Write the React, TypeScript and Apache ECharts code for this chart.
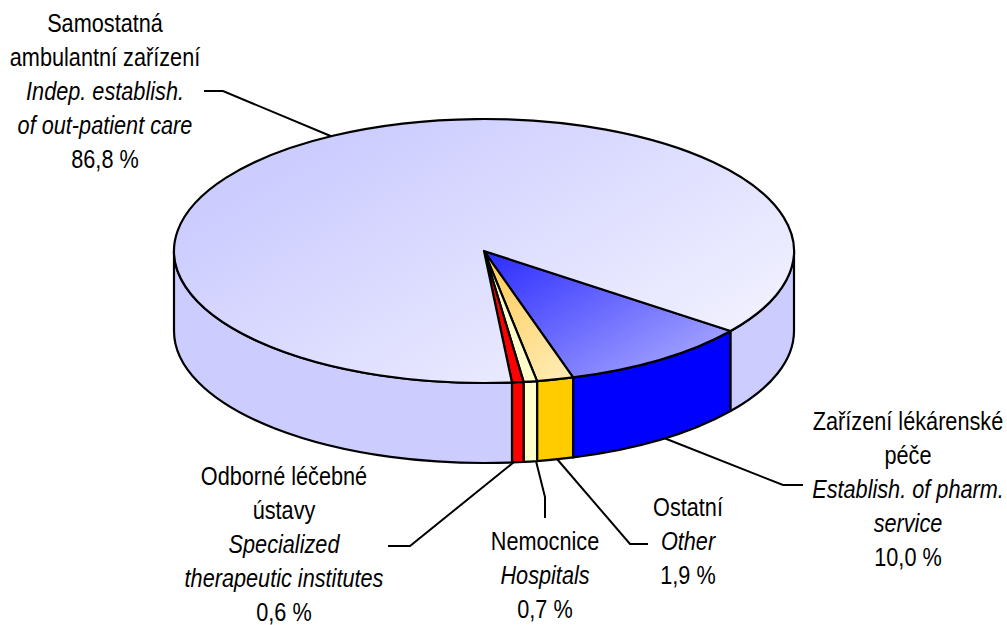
import React, { useEffect, useRef } from "react";
import * as echarts from "echarts";

const sliceNames = ["Zařízení lékárenské péče", "Ostatní", "Nemocnice", "Odborné léčebné ústavy", "Samostatná ambulantní zařízení"];
const sliceValues = [10.0, 1.9, 0.7, 0.6, 86.8];
const labelLines = [
  ["Zařízení lékárenské", "péče", "Establish. of pharm.", "service", "10,0 %"],
  ["Ostatní", "Other", "1,9 %"],
  ["Nemocnice", "Hospitals", "0,7 %"],
  ["Odborné léčebné", "ústavy", "Specialized", "therapeutic institutes", "0,6 %"],
  ["Samostatná", "ambulantní zařízení", "Indep. establish.", "of out-patient care", "86,8 %"],
];
const italicFlags = [
  [false, false, true, true, false],
  [false, true, false],
  [false, true, false],
  [false, false, true, true, false],
  [false, false, true, true, false],
];

const CX = 484, CY = 251, RX = 310, RY = 132, DEPTH = 80, START = 127.3;
const labelCenters = [[908, 421], [688, 507], [545, 541], [284, 476], [105, 23]];
const lineGap = 34;
const leaders = [
  [[664, 438], [783, 485], [803, 485]],
  [[557, 459], [630, 544], [648, 544]],
  [[536, 461], [545, 497], [545, 518]],
  [[514, 462], [410, 546], [388, 546]],
  [[333, 137], [223, 91], [204, 91]],
];
const sideColors = ["#0000ff", "#ffcc00", "#ffffcc", "#ff0000", "#ccccff"];
const grad = (x0: number, y0: number, x1: number, y1: number, a: string, b: string) =>
  new echarts.graphic.LinearGradient(x0, y0, x1, y1, [{ offset: 0, color: a }, { offset: 1, color: b }], true);
const topFills: any[] = [
  grad(484, 251, 620, 470, "#2a2aff", "#c0c0ff"),
  grad(484, 251, 574, 380, "#ffc94f", "#ffedb8"),
  "#ffffcc",
  "#ff0000",
  grad(330, 140, 515, 460, "#ccccff", "#f0f0ff"),
];

const pt = (deg: number, dy = 0) => {
  const r = (deg * Math.PI) / 180;
  return [CX + RX * Math.sin(r), CY - RY * Math.cos(r) + dy];
};
const topPath = (a: number, b: number) => {
  const p = pt(a), q = pt(b);
  return `M${CX} ${CY}L${p[0]} ${p[1]}A${RX} ${RY} 0 ${b - a > 180 ? 1 : 0} 1 ${q[0]} ${q[1]}Z`;
};
const sidePath = (a: number, b: number) => {
  const p = pt(a), q = pt(b), r = pt(b, DEPTH), s = pt(a, DEPTH);
  return `M${p[0]} ${p[1]}A${RX} ${RY} 0 0 1 ${q[0]} ${q[1]}L${r[0]} ${r[1]}A${RX} ${RY} 0 0 0 ${s[0]} ${s[1]}Z`;
};
const frontRanges = (a: number, b: number) => {
  const out: number[][] = [];
  for (const [lo, hi] of [[90, 270], [450, 630]]) {
    const s = Math.max(a, lo), e = Math.min(b, hi);
    if (e > s) out.push([s, e]);
  }
  return out;
};

const FONT = "'Liberation Sans', Arial, sans-serif";

export default function App() {
  const ref = useRef<HTMLDivElement>(null);
  useEffect(() => {
    const chart = echarts.init(ref.current!, undefined, { renderer: "svg" });
    const total = sliceValues.reduce((s, v) => s + v, 0);
    const texts: any[] = [];
    labelLines.forEach((lines, i) => {
      lines.forEach((t, j) => {
        texts.push({
          type: "text",
          x: labelCenters[i][0],
          y: labelCenters[i][1] + j * lineGap,
          scaleX: 0.868,
          style: {
            text: t, fill: "#000", font: `${italicFlags[i][j] ? "italic " : ""}25px ${FONT}`,
            lineHeight: 22, align: "center", verticalAlign: "middle",
          },
        });
      });
    });
    const leaderEls = leaders.map((points) => ({
      type: "polyline",
      shape: { points },
      style: { stroke: "#000", lineWidth: 2, fill: "none" },
    }));
    chart.setOption({
      animation: false,
      backgroundColor: "#fff",
      series: [
        {
          type: "custom",
          coordinateSystem: "none",
          data: sliceValues.map((value, i) => ({ name: sliceNames[i], value })),
          renderItem: (params: any, api: any) => {
            const i = params.dataIndex;
            let before = 0;
            for (let k = 0; k < i; k++) before += sliceValues[k];
            const a = START + (before / total) * 360;
            const b = a + (api.value(0) / total) * 360;
            const children: any[] = frontRanges(a, b).map(([s, e]) => ({
              type: "path",
              shape: { pathData: sidePath(s, e) },
              style: { fill: sideColors[i], stroke: "#000", lineWidth: 2.2, lineJoin: "round" },
            }));
            children.push({
              type: "path",
              shape: { pathData: topPath(a, b) },
              style: { fill: topFills[i], stroke: "#000", lineWidth: 2.2, lineJoin: "round" },
            });
            return { type: "group", children };
          },
        },
      ],
      graphic: { elements: [...leaderEls, ...texts] },
    });
    return () => chart.dispose();
  }, []);
  return <div ref={ref} style={{ position: "fixed", left: 0, top: 0, width: 1007, height: 625 }} />;
}
